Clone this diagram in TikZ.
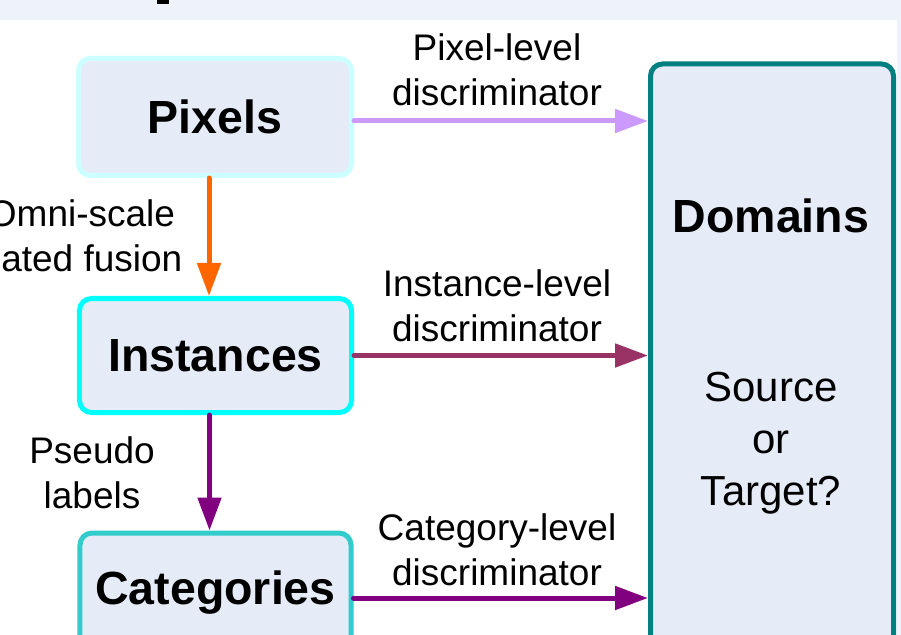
\documentclass[tikz,border=0pt]{standalone}
\usepackage{fontspec}
\setmainfont{Liberation Sans}
\usetikzlibrary{arrows.meta}
\definecolor{boxfill}{RGB}{230,236,247}
\definecolor{bandfill}{RGB}{238,242,250}
\definecolor{pixedge}{RGB}{204,255,255}
\definecolor{instedge}{RGB}{0,255,255}
\definecolor{catedge}{RGB}{51,204,204}
\definecolor{domedge}{RGB}{0,128,128}
\definecolor{pixarrow}{RGB}{204,153,255}
\definecolor{fusearrow}{RGB}{255,102,0}
\definecolor{instarrow}{RGB}{153,51,102}
\definecolor{catarrow}{RGB}{128,0,128}
\begin{document}
\begin{tikzpicture}[x=1bp,y=-1bp,
  level/.style={draw, line width=5bp, fill=boxfill, rounded corners=12bp,
    inner sep=0pt, font=\fontsize{46.5bp}{54bp}\selectfont\bfseries},
  flow/.style={line width=5bp, line cap=round,
    -{Triangle[length=33bp,width=23bp]}},
  lbl/.style={align=center, inner sep=0pt,
    font=\fontsize{37bp}{45bp}\selectfont},
  dom/.style={align=center, inner sep=0pt,
    font=\fontsize{42bp}{52bp}\selectfont}]
  \useasboundingbox (0,0) rectangle (901,635);
  \clip (0,0) rectangle (901,635);
  % page background, header band and side strip
  \fill[white] (0,0) rectangle (901,635);
  \fill[bandfill] (0,0) rectangle (901,20);
  \fill[bandfill] (897,0) rectangle (901,635);
  \fill[black] (157,0) rectangle (169,4);

  % the three levels and the domain box
  \node[level, draw=pixedge, minimum width=273bp, minimum height=117bp]
    (pix) at (215,117) {Pixels};
  \node[level, draw=instedge, minimum width=272bp, minimum height=114bp]
    (inst) at (215.5,355.5) {Instances};
  \node[level, draw=catedge, minimum width=271bp, minimum height=120bp]
    (cat) at (215.5,593) {Categories};
  \node[level, draw=domedge, minimum width=243bp, minimum height=636bp]
    (domains) at (772,382) {};
  \node[inner sep=0pt, font=\fontsize{46.5bp}{54bp}\selectfont\bfseries]
    (domtitle) at (771,216) {Domains};
  \node[dom] (question) at (771,443) {Source\\or\\Target?};

  % connectors
  \coordinate (pixout) at ([yshift=-4bp]pix.east);
  \coordinate (catout) at ([yshift=-5bp]cat.east);
  \coordinate (pixdown) at ([xshift=-6bp]pix.south);
  \coordinate (instdown) at ([xshift=-6bp]inst.south);
  \draw[flow, pixarrow] (pixout) -- (pixout -| domains.west);
  \draw[flow, instarrow] (inst.east) -- (inst.east -| domains.west);
  \draw[flow, catarrow] (catout) -- (catout -| domains.west);
  \draw[flow, fusearrow] (pixdown) -- (pixdown |- inst.north);
  \draw[flow, catarrow] (instdown) -- (instdown |- cat.north);

  % connector labels
  \node[lbl] (pixlbl) at (497,70) {Pixel-level\\discriminator};
  \node[lbl] (instlbl) at (497,306) {Instance-level\\discriminator};
  \node[lbl] (catlbl) at (497,550) {Category-level\\discriminator};
  \node[lbl] (fuselbl) at (81.5,239) {Omni-scale\\gated fusion};
  \node[lbl] (pseudolbl) at (92,473) {Pseudo\\labels};
\end{tikzpicture}
\end{document}
